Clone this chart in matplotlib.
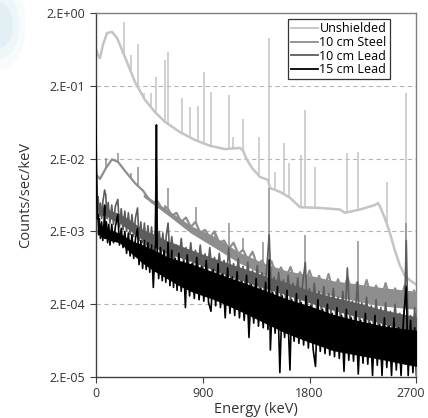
import numpy as np
import matplotlib
matplotlib.use("Agg")
import matplotlib.pyplot as plt
from matplotlib.patches import Ellipse
from matplotlib.transforms import ScaledTranslation

plt.rcParams['font.family'] = ['Open Sans', 'DejaVu Sans']

# ---------------- data ----------------
# Unshielded spectrum baseline
un_E = [0, 19, 36, 61, 95, 137, 179, 222, 272, 331, 415, 499, 583, 710, 836, 962,
        1088, 1214, 1240, 1265, 1315, 1383, 1450, 1467, 1551, 1635, 1719, 1888,
        2056, 2098, 2225, 2350, 2376, 2390, 2432, 2474, 2517, 2559, 2600, 2642, 2700]
un_v = [0.66, 0.53, 0.48, 0.73, 1.06, 1.10, 0.91, 0.62, 0.39, 0.225, 0.128, 0.087,
        0.064, 0.046, 0.036, 0.030, 0.027, 0.028, 0.026, 0.0204, 0.0149, 0.0112,
        0.0102, 0.0079, 0.0070, 0.0058, 0.0043, 0.0042, 0.0040, 0.0036, 0.0040,
        0.0046, 0.0049, 0.0045, 0.0031, 0.00196, 0.00111, 0.00069, 0.00050,
        0.00043, 0.00037]
un_pk_E = [238, 295, 352, 409, 463, 510, 583, 609, 727, 795, 860, 911, 969, 1120,
           1155, 1238, 1377, 1460, 1509, 1588, 1630, 1730, 1764, 1847, 2118, 2204,
           2448, 2614]
un_pk_v = [1.50, 0.53, 0.75, 0.16, 0.16, 0.26, 0.45, 0.58, 0.136, 0.102, 0.107,
           0.31, 0.164, 0.15, 0.040, 0.070, 0.040, 0.91, 0.0131, 0.033, 0.0174,
           0.0224, 0.093, 0.0153, 0.024, 0.025, 0.0095, 0.16]

# 10 cm Steel: noisy trace and the dense body of its band
st_E = [0, 36, 87, 137, 188, 247, 331, 400, 440, 480,
        520, 560, 600, 640, 680, 720, 760, 800, 840, 880,
        920, 960, 1000, 1040, 1080, 1120, 1160, 1200, 1240, 1280,
        1320, 1360, 1400, 1440, 1480, 1520, 1560, 1600, 1640, 1680,
        1720, 1760, 1800, 1840, 1880, 1920, 1960, 2000, 2040, 2080,
        2120, 2160, 2200, 2240, 2280, 2320, 2360, 2400, 2440, 2480,
        2520, 2560, 2600, 2640, 2680, 2700]
st_v = [0.0123, 0.0105, 0.0149, 0.0195, 0.0180, 0.0135, 0.0092, 0.0072, 0.0058, 0.0049,
        0.0052, 0.0040, 0.0043, 0.0033, 0.0036, 0.0027, 0.0031, 0.0023, 0.0027, 0.0019,
        0.0021, 0.00165, 0.0020, 0.00140, 0.0015, 0.00115, 0.0014, 0.00098, 0.00112, 0.00082,
        0.00105, 0.00068, 0.00080, 0.00058, 0.00078, 0.00050, 0.00064, 0.00045, 0.00065, 0.00040,
        0.00055, 0.00037, 0.00058, 0.00034, 0.00049, 0.00031, 0.00052, 0.00029, 0.00044, 0.00028,
        0.00047, 0.00027, 0.00040, 0.00025, 0.00043, 0.00024, 0.00036, 0.00023, 0.00039, 0.00022,
        0.00033, 0.00021, 0.00036, 0.00020, 0.00031, 0.00022]
st_body_E = [400, 600, 800, 1000, 1200, 1400, 1600, 1800, 2000, 2200, 2400, 2700]
st_body_hi = [0.0066, 0.0040, 0.0024, 0.0017, 0.00105, 0.00075, 0.00058, 0.00050,
              0.00042, 0.00038, 0.00034, 0.00030]
st_body_lo = [0.0060, 0.0034, 0.0019, 0.0012, 0.00075, 0.00052, 0.00038, 0.00031,
              0.00026, 0.00022, 0.00019, 0.00017]
st_pk_E = [87, 186, 295, 352, 583, 609, 840, 1001, 1120, 1238, 1408, 1460, 1764,
           2204, 2614]
st_pk_v = [0.0204, 0.024, 0.0127, 0.0153, 0.0046, 0.0079, 0.0043, 0.0014,
           0.0026, 0.0016, 0.00143, 0.0079, 0.0018, 0.0015, 0.0026]

# 10 cm Lead
pb10_E = [0, 3, 6, 10, 15, 20, 30, 40, 50, 60,
          75, 85, 95, 105, 120, 135, 150, 165, 186, 200,
          215, 230, 245, 260, 275, 290, 305, 320, 335, 352,
          365, 380, 395, 410, 425, 440, 455, 470, 485, 500,
          511, 520, 535, 550, 565, 580, 595, 609, 625, 640,
          660, 680, 700, 720, 740, 760, 780, 800, 820, 840,
          860, 880, 900, 920, 940, 960, 980, 1000, 1020, 1040,
          1060, 1080, 1100, 1120, 1140, 1160, 1180, 1200, 1220, 1240,
          1260, 1280, 1300, 1320, 1340, 1360, 1380, 1400, 1420, 1440,
          1460, 1480, 1500, 1520, 1540, 1560, 1580, 1600, 1620, 1640,
          1660, 1680, 1700, 1720, 1740, 1764, 1780, 1800, 1820, 1840,
          1860, 1880, 1900, 1920, 1940, 1960, 1980, 2000, 2020, 2040,
          2060, 2080, 2100, 2118, 2140, 2160, 2180, 2204, 2220, 2240,
          2260, 2280, 2300, 2320, 2340, 2360, 2380, 2400, 2420, 2440,
          2460, 2480, 2500, 2520, 2540, 2560, 2580, 2600, 2614, 2630,
          2650, 2670, 2685, 2700]
pb10_v = [0.19, 0.06, 0.015, 0.0087, 0.0045, 0.0060, 0.0032, 0.0049, 0.0030, 0.0050,
          0.0074, 0.0063, 0.0030, 0.0050, 0.0026, 0.0046, 0.0025, 0.0044, 0.0055, 0.0023,
          0.0041, 0.0021, 0.0038, 0.0020, 0.0036, 0.0018, 0.0034, 0.0017, 0.0031, 0.0042,
          0.0015, 0.0027, 0.0014, 0.0026, 0.0013, 0.0024, 0.0012, 0.0023, 0.0011, 0.0021,
          0.020, 0.0011, 0.0020, 0.0010, 0.0019, 0.00092, 0.0018, 0.0026, 0.00088, 0.0017,
          0.00084, 0.0013, 0.00080, 0.0016, 0.00075, 0.0012, 0.00070, 0.0014, 0.00066, 0.0011,
          0.00063, 0.0013, 0.00060, 0.00098, 0.00057, 0.0012, 0.00052, 0.00088, 0.00050, 0.0010,
          0.00048, 0.00080, 0.00045, 0.0012, 0.00042, 0.00072, 0.00040, 0.00085, 0.00038, 0.00066,
          0.00036, 0.00076, 0.00034, 0.00058, 0.00032, 0.00068, 0.00031, 0.00054, 0.00030, 0.00062,
          0.0018, 0.00027, 0.00047, 0.00026, 0.00055, 0.00024, 0.00043, 0.00023, 0.00050, 0.00022,
          0.00039, 0.00021, 0.00046, 0.00020, 0.00036, 0.00075, 0.00019, 0.00033, 0.00018, 0.00039,
          0.00017, 0.00030, 0.00016, 0.00035, 0.00015, 0.00028, 0.00015, 0.00033, 0.00014, 0.00025,
          0.00013, 0.00030, 0.00013, 0.00063, 0.00012, 0.00022, 0.00012, 0.00040, 0.00011, 0.00021,
          0.00011, 0.00025, 0.00010, 0.00019, 0.00010, 0.00023, 0.000095, 0.00018, 0.000090, 0.00021,
          0.000088, 0.00016, 0.000085, 0.00020, 0.000082, 0.00015, 0.000080, 0.00019, 0.0015, 0.000075,
          0.00014, 0.000072, 0.00018, 0.000070]
pb10_body_E = [0, 4, 10, 20, 40, 85, 120, 200, 300, 400, 500, 600, 800, 1000,
               1200, 1400, 1600, 1800, 2000, 2200, 2400, 2600, 2700]
pb10_body_hi = [0.19, 0.04, 0.0075, 0.0052, 0.0042, 0.0045, 0.0039, 0.0035,
                0.0028, 0.0021, 0.0018, 0.0015, 0.00112, 0.00085, 0.00066,
                0.00051, 0.00040, 0.00031, 0.00025, 0.00021, 0.00017, 0.000145,
                0.000135]
pb10_body_lo = [0.15, 0.03, 0.0065, 0.0043, 0.0032, 0.0034, 0.0030, 0.0026,
                0.0020, 0.0015, 0.0012, 0.0010, 0.00078, 0.00058, 0.00044,
                0.00034, 0.00027, 0.00021, 0.000165, 0.000135, 0.00011, 0.00009,
                0.00008]

# 15 cm Lead
pb15_E = [0, 3, 6, 10, 15, 20, 25, 30, 40, 50,
          60, 70, 75, 80, 90, 100, 110, 120, 135, 150,
          165, 186, 200, 215, 230, 245, 260, 275, 290, 305,
          320, 335, 352, 365, 380, 395, 410, 425, 440, 455,
          470, 485, 500, 505, 511, 517, 530, 545, 560, 575,
          590, 609, 625, 640, 655, 670, 685, 700, 720, 740,
          755, 770, 790, 810, 830, 850, 870, 890, 910, 930,
          950, 970, 990, 1010, 1030, 1050, 1070, 1090, 1110, 1130,
          1150, 1170, 1190, 1210, 1230, 1250, 1270, 1290, 1310, 1330,
          1350, 1370, 1390, 1410, 1430, 1450, 1460, 1470, 1490, 1510,
          1530, 1550, 1570, 1590, 1610, 1635, 1650, 1670, 1690, 1710,
          1730, 1750, 1770, 1790, 1810, 1830, 1850, 1870, 1890, 1910,
          1930, 1950, 1970, 1990, 2010, 2030, 2050, 2070, 2090, 2110,
          2130, 2150, 2170, 2190, 2210, 2230, 2250, 2270, 2290, 2310,
          2330, 2350, 2370, 2390, 2410, 2430, 2450, 2470, 2490, 2510,
          2530, 2550, 2570, 2590, 2614, 2630, 2650, 2670, 2685, 2700]
pb15_v = [0.19, 0.05, 0.012, 0.0052, 0.0030, 0.0034, 0.0018, 0.0030, 0.0016, 0.0027,
          0.0015, 0.0026, 0.0046, 0.0016, 0.0027, 0.0014, 0.0025, 0.0013, 0.0025, 0.0014,
          0.0023, 0.0034, 0.0013, 0.0022, 0.0012, 0.0020, 0.0010, 0.0019, 0.00092, 0.0018,
          0.00085, 0.0016, 0.0022, 0.00070, 0.0015, 0.00062, 0.0015, 0.00060, 0.0014, 0.00055,
          0.0013, 0.00034, 0.0012, 0.0013, 0.058, 0.0012, 0.00045, 0.0012, 0.00042, 0.0011,
          0.00040, 0.0014, 0.00036, 0.0011, 0.00034, 0.00085, 0.00031, 0.0010, 0.00030, 0.00078,
          0.00018, 0.00095, 0.00026, 0.00072, 0.00024, 0.00088, 0.00023, 0.00066, 0.00022, 0.00080,
          0.00021, 0.00016, 0.00060, 0.00019, 0.00072, 0.00018, 0.00052, 0.00013, 0.00063, 0.00015,
          0.00047, 0.00014, 0.00056, 0.00013, 0.00041, 0.00012, 0.00050, 0.000070, 0.00037, 0.00011,
          0.00045, 0.00010, 0.00033, 0.000095, 0.00040, 0.000090, 0.00081, 0.000047, 0.00029, 0.000080,
          0.00035, 0.000023, 0.00026, 0.000070, 0.00031, 0.000025, 0.00023, 0.000062, 0.00028, 0.000058,
          0.00021, 0.000055, 0.00026, 0.000050, 0.00019, 0.000048, 0.000028, 0.00023, 0.000045, 0.00017,
          0.000042, 0.00020, 0.000040, 0.00015, 0.000038, 0.00018, 0.000036, 0.00014, 0.000024, 0.00017,
          0.000034, 0.00013, 0.000033, 0.00016, 0.000022, 0.00012, 0.000031, 0.00015, 0.000030, 0.00011,
          0.000021, 0.00014, 0.000029, 0.000105, 0.000021, 0.00013, 0.000027, 0.00010, 0.000021, 0.00013,
          0.000025, 0.000095, 0.000021, 0.00012, 0.00035, 0.000021, 0.00012, 0.000023, 0.000095, 0.000021]
pb15_body_E = [0, 4, 10, 20, 40, 85, 120, 200, 300, 400, 500, 600, 700, 800, 1000,
               1200, 1400, 1600, 1800, 2000, 2200, 2400, 2600, 2700]
pb15_body_hi = [0.19, 0.03, 0.0045, 0.0028, 0.0024, 0.0023, 0.0021, 0.0019,
                0.0015, 0.0013, 0.0011, 0.00090, 0.00080, 0.00072, 0.00055,
                0.00042, 0.00032, 0.00024, 0.00019, 0.000145, 0.000120,
                0.000102, 0.000092, 0.000088]
pb15_body_lo = [0.128, 0.02, 0.0035, 0.0020, 0.0017, 0.0016, 0.0015, 0.0014,
                0.0010, 0.00072, 0.00056, 0.00045, 0.00036, 0.00030, 0.00023,
                0.000165, 0.000115, 0.00008, 0.00006, 0.000046, 0.000040,
                0.000035, 0.000030, 0.000028]

labels = ["Unshielded", "10 cm Steel", "10 cm Lead", "15 cm Lead"]
colors = ["#c4c4c4", "#8e8e8e", "#5c5c5c", "#000000"]
yticks = [2e-5, 2e-4, 2e-3, 2e-2, 2e-1, 2e0]
yticklabels = ["2.E-05", "2.E-04", "2.E-03", "2.E-02", "2.E-01", "2.E+00"]
xticks = [0, 900, 1800, 2700]

# ---------------- figure ----------------
fig = plt.figure(figsize=(4.28, 4.18), dpi=100)
for w, a in [(0.12, 0.10), (0.09, 0.15), (0.06, 0.2)]:
    fig.patches.append(Ellipse((0.0, 0.94), w, w * 1.8, transform=fig.transFigure,
                               color="#b9dcea", alpha=a, lw=0))

ax = fig.add_axes([0.2236, 0.098, 0.7495, 0.871])
ax.set_yscale("log")
ax.set_xlim(0, 2700)
ax.set_ylim(2e-5, 2e0)


def logbase(E, xs, ys):
    return np.exp(np.interp(E, xs, np.log(ys)))


# Unshielded
ax.plot(un_E, un_v, color=colors[0], lw=1.8, zorder=2, label=labels[0])
ax.vlines(un_pk_E, logbase(un_pk_E, un_E, un_v), un_pk_v, color=colors[0],
          lw=1.1, zorder=2)

# Steel
ax.fill_between(st_body_E, st_body_lo, st_body_hi, color=colors[1], lw=0,
                zorder=3)
ax.plot(st_E, st_v, color=colors[1], lw=1.6, zorder=3, label=labels[1])
ax.vlines(st_pk_E, logbase(st_pk_E, st_E, st_v), st_pk_v, color=colors[1],
          lw=1.1, zorder=3)

# 10 cm Lead
ax.fill_between(pb10_body_E, pb10_body_lo, pb10_body_hi, color=colors[2], lw=0,
                zorder=4)
ax.plot(pb10_E, pb10_v, color=colors[2], lw=1.2, zorder=4, label=labels[2])

# 15 cm Lead
ax.fill_between(pb15_body_E, pb15_body_lo, pb15_body_hi, color=colors[3], lw=0,
                zorder=5)
ax.plot(pb15_E, pb15_v, color=colors[3], lw=1.2, zorder=5, label=labels[3])

# grid / axes styling
ax.yaxis.set_major_locator(matplotlib.ticker.FixedLocator(yticks))
ax.yaxis.set_minor_locator(matplotlib.ticker.NullLocator())
ax.set_yticklabels(yticklabels)
ax.set_xticks(xticks)
ax.set_xticklabels([str(t) for t in xticks])
for t in yticks[1:-1]:
    ax.axhline(t, color="#b5b5b5", lw=0.8, ls=(0, (4, 3)), zorder=1)

for side in ["left", "bottom"]:
    ax.spines[side].set_color("#404040")
    ax.spines[side].set_linewidth(1.0)
for side in ["top", "right"]:
    ax.spines[side].set_color("#808080")
    ax.spines[side].set_linewidth(1.0)
ax.tick_params(axis="both", direction="out", length=4, width=0.8,
               colors="#404040", labelsize=9, labelcolor="#333333")
# keep the last x tick label inside the figure
last = ax.get_xticklabels()[-1]
last.set_transform(last.get_transform() + ScaledTranslation(-4 / 72, 0, fig.dpi_scale_trans))

ax.set_xlabel("Energy (keV)", fontsize=10.5, color="#333333", labelpad=1)
ax.set_ylabel("Counts/sec/keV", fontsize=10.5, color="#333333")
ax.yaxis.set_label_coords(-0.195, 0.5)

leg = ax.legend(loc="upper right", bbox_to_anchor=(0.917, 0.983), fontsize=9,
                frameon=True, fancybox=False, handlelength=2.1, handletextpad=0.15,
                borderpad=0.25, labelspacing=0.05, borderaxespad=0)
leg.get_frame().set_edgecolor("#000000")
leg.get_frame().set_linewidth(0.9)
for line in leg.get_lines():
    line.set_linewidth(1.3)

fig.savefig("out.png", dpi=100)
